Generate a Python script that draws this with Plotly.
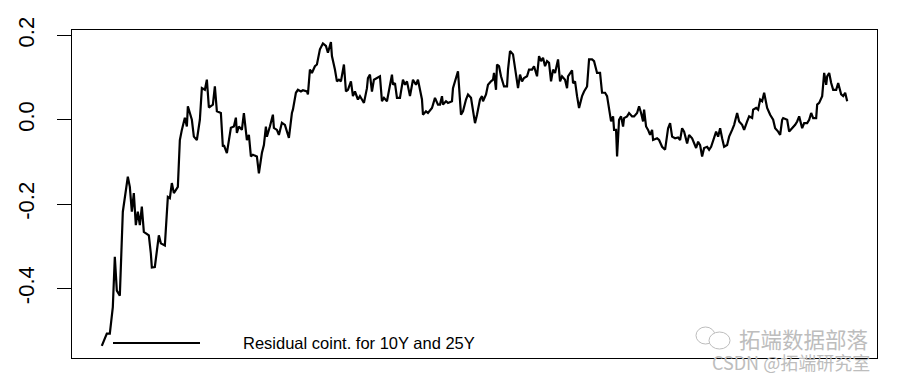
import plotly.graph_objects as go

# observation index (time) and cointegration residual
t = [0, 3, 5, 8, 11, 13, 15, 18, 21, 26, 28, 30, 32, 34, 36, 38, 40, 42, 45, 47,
     49, 50, 53, 57, 59, 63, 66, 68, 70, 72, 76, 78, 80, 83, 85, 86, 90, 92, 95, 98,
     100, 103, 105, 107, 111, 113, 115, 119, 121, 122, 125, 129, 132, 134, 135, 137, 140, 142, 145, 147,
     149, 151, 155, 157, 160, 162, 164, 165, 168, 171, 172, 175, 177, 180, 183, 185, 187, 190, 191, 194,
     196, 199, 201, 205, 206, 208, 210, 213, 215, 218, 221, 224, 226, 229, 230, 233, 235, 237, 239, 242,
     244, 246, 249, 251, 253, 256, 258, 260, 262, 265, 266, 268, 270, 272, 275, 276, 278, 280, 282, 285,
     287, 290, 291, 293, 295, 298, 301, 303, 305, 308, 311, 314, 316, 318, 320, 321, 324, 326, 330, 333,
     336, 338, 340, 341, 344, 346, 350, 351, 354, 356, 359, 361, 364, 366, 369, 371, 373, 375, 378, 380,
     381, 384, 386, 389, 391, 392, 394, 395, 397, 399, 402, 405, 406, 408, 411, 413, 416, 418, 420, 422,
     425, 427, 430, 432, 435, 437, 439, 441, 443, 445, 447, 449, 451, 453, 456, 458, 460, 463, 465, 466,
     470, 471, 473, 475, 477, 480, 482, 485, 487, 490, 492, 495, 498, 500, 503, 505, 507, 509, 511, 512,
     514, 515, 517, 519, 521, 522, 525, 527, 530, 532, 535, 537, 539, 541, 542, 544, 546, 548, 550, 551,
     555, 557, 560, 563, 566, 568, 570, 573, 576, 578, 580, 582, 585, 587, 590, 592, 594, 596, 598, 600,
     602, 605, 607, 609, 611, 614, 616, 618, 620, 622, 625, 627, 630, 632, 635, 637, 640, 642, 645, 647,
     650, 651, 654, 656, 658, 660, 662, 665, 668, 671, 673, 676, 678, 680, 681, 685, 687, 690, 693, 695,
     697, 700, 702, 705, 707, 709, 711, 714, 715, 717, 720, 722, 724, 725, 727, 729, 731, 734, 736, 739,
     741, 743, 745]

residual = [-0.536, -0.519, -0.507, -0.507, -0.444, -0.325, -0.405, -0.417, -0.218, -0.135, -0.159, -0.218, -0.174, -0.250, -0.218, -0.250, -0.206, -0.266, -0.270, -0.274,
            -0.317, -0.350, -0.349, -0.274, -0.293, -0.298, -0.183, -0.186, -0.150, -0.174, -0.159, -0.048, -0.024, 0.005, -0.016, 0.032, 0.000, -0.040, -0.048, 0.000,
            0.075, 0.071, 0.095, 0.029, 0.036, 0.079, 0.020, 0.016, -0.064, -0.060, -0.079, -0.019, -0.016, 0.005, -0.031, -0.016, -0.024, 0.016, -0.048, -0.036,
            -0.087, -0.083, -0.087, -0.127, -0.079, -0.060, -0.016, -0.040, -0.016, 0.012, -0.019, -0.024, -0.036, -0.007, -0.012, -0.028, -0.043, 0.016, 0.024, 0.064,
            0.071, 0.067, 0.070, 0.067, 0.060, 0.119, 0.111, 0.127, 0.131, 0.167, 0.181, 0.175, 0.159, 0.184, 0.151, 0.119, 0.091, 0.095, 0.091, 0.131,
            0.067, 0.071, 0.091, 0.056, 0.067, 0.048, 0.056, 0.048, 0.040, 0.075, 0.099, 0.107, 0.067, 0.095, 0.099, 0.099, 0.103, 0.044, 0.052, 0.044,
            0.071, 0.107, 0.083, 0.087, 0.052, 0.052, 0.095, 0.083, 0.091, 0.056, 0.095, 0.083, 0.095, 0.071, 0.048, 0.012, 0.020, 0.016, 0.028, 0.052,
            0.036, 0.036, 0.056, 0.036, 0.044, 0.040, 0.044, 0.075, 0.099, 0.115, 0.012, 0.020, 0.048, 0.060, 0.052, 0.016, -0.008, 0.012, 0.048, 0.056,
            0.044, 0.060, 0.083, 0.091, 0.095, 0.111, 0.071, 0.131, 0.127, 0.103, 0.079, 0.079, 0.119, 0.163, 0.155, 0.123, 0.075, 0.107, 0.091, 0.099,
            0.103, 0.119, 0.119, 0.127, 0.103, 0.151, 0.139, 0.147, 0.127, 0.139, 0.135, 0.091, 0.119, 0.111, 0.143, 0.091, 0.103, 0.095, 0.075, 0.103,
            0.117, 0.087, 0.091, 0.056, 0.028, 0.056, 0.067, 0.079, 0.143, 0.143, 0.139, 0.111, 0.111, 0.064, 0.064, 0.056, 0.024, -0.004, 0.008, -0.024,
            -0.024, -0.087, 0.000, 0.008, -0.016, 0.004, 0.008, 0.016, 0.008, 0.008, 0.016, 0.032, 0.016, -0.004, 0.024, -0.016, -0.024, -0.036, -0.024, -0.048,
            -0.044, -0.048, -0.064, -0.071, -0.020, -0.008, -0.040, -0.044, -0.042, -0.048, -0.020, -0.028, -0.056, -0.036, -0.044, -0.056, -0.067, -0.052, -0.060, -0.087,
            -0.067, -0.064, -0.071, -0.064, -0.048, -0.028, -0.040, -0.020, -0.044, -0.064, -0.060, -0.040, -0.024, -0.012, 0.016, -0.004, -0.012, -0.024, -0.004, 0.008,
            0.004, 0.024, 0.028, 0.024, 0.048, 0.044, 0.064, 0.028, 0.012, 0.000, -0.020, -0.028, -0.036, 0.000, 0.004, 0.000, -0.028, -0.020, -0.012, -0.004,
            0.008, -0.020, -0.008, -0.008, 0.000, 0.016, 0.004, 0.004, 0.036, 0.040, 0.056, 0.111, 0.083, 0.103, 0.111, 0.087, 0.071, 0.071, 0.087, 0.060,
            0.056, 0.064, 0.044]

y_ticks = [-0.4, -0.2, 0.0, 0.2]
y_tick_labels = ["-0.4", "-0.2", "0.0", "0.2"]
legend_label = "Residual coint. for 10Y and 25Y"

# R-style axis limits (4% padding)
xpad = 0.04 * (max(t) - min(t))
ypad = 0.04 * (max(residual) - min(residual))

fig = go.Figure()
fig.add_trace(go.Scatter(x=t, y=residual, mode="lines",
                         line=dict(color="black", width=2.2), showlegend=False))

font_family = "Liberation Sans, Arial, sans-serif"

fig.update_layout(
    width=897, height=378,
    margin=dict(l=72, r=20, t=30, b=20),
    paper_bgcolor="white", plot_bgcolor="white",
    showlegend=False,
    font=dict(family=font_family, color="black"),
    xaxis=dict(range=[min(t) - xpad, max(t) + xpad], showgrid=False, zeroline=False,
               showticklabels=False, ticks="", showline=True, mirror=True,
               linecolor="black", linewidth=1),
    yaxis=dict(range=[min(residual) - ypad, max(residual) + ypad], showgrid=False, zeroline=False,
               tickmode="array", tickvals=y_ticks, ticktext=y_tick_labels,
               ticks="outside", ticklen=14, tickwidth=1, tickcolor="black",
               tickangle=-90, tickfont=dict(size=22, family=font_family, color="black"),
               ticklabelstandoff=14,
               showline=True, mirror=True, linecolor="black", linewidth=1),
)

# legend (R style, no box)
fig.add_shape(type="line", xref="paper", yref="paper",
              x0=(113 - 72) / 805, x1=(200 - 72) / 805, y0=15 / 328, y1=15 / 328,
              line=dict(color="black", width=2.2))
fig.add_annotation(text=legend_label, xref="paper", yref="paper",
                   x=(241 - 72) / 805, y=15 / 328, xanchor="left", yanchor="middle",
                   showarrow=False, font=dict(size=16.5, family=font_family, color="black"))

# watermark
wm_color = "#bdbdbd"
fig.add_shape(type="circle", xref="paper", yref="paper",
              x0=(696 - 72) / 805, x1=(715 - 72) / 805, y0=(358 - 344) / 328, y1=(358 - 327) / 328,
              line=dict(color=wm_color, width=1))
fig.add_shape(type="circle", xref="paper", yref="paper",
              x0=(709 - 72) / 805, x1=(730 - 72) / 805, y0=(358 - 349) / 328, y1=(358 - 332) / 328,
              line=dict(color=wm_color, width=1), fillcolor="white")
fig.add_annotation(text="拓端数据部落", xref="paper", yref="paper",
                   x=(737 - 72) / 805, y=(358 - 338) / 328, xanchor="left", yanchor="middle",
                   showarrow=False, font=dict(size=21.5, family="Noto Sans CJK SC", color=wm_color))
fig.add_annotation(text="CSDN @拓端研究室", xref="paper", yref="paper",
                   x=(710 - 72) / 805, y=(358 - 362) / 328, xanchor="left", yanchor="middle",
                   showarrow=False, font=dict(size=18, family="Noto Sans CJK SC", color=wm_color))

fig.write_html("out.html", config={"displayModeBar": False},
               post_script="document.body.style.margin='0';document.body.style.padding='0';")
